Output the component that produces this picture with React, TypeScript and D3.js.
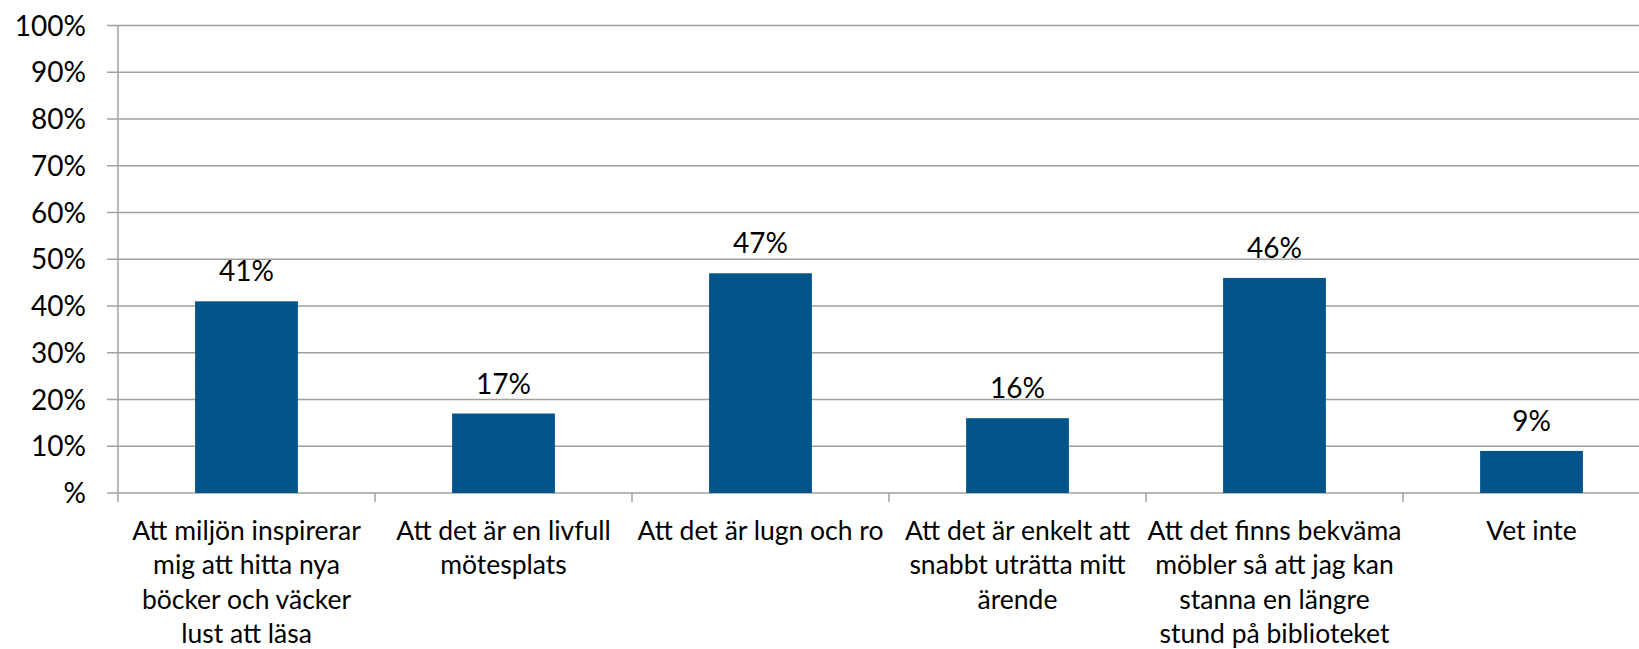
import { useEffect, useRef } from 'react';
import * as d3 from 'd3';

// Category labels, already broken into lines as in the picture
const CATEGORIES: string[][] = [
  ['Att miljön inspirerar', 'mig att hitta nya', 'böcker och väcker', 'lust att läsa'],
  ['Att det är en livfull', 'mötesplats'],
  ['Att det är lugn och ro'],
  ['Att det är enkelt att', 'snabbt uträtta mitt', 'ärende'],
  ['Att det finns bekväma', 'möbler så att jag kan', 'stanna en längre', 'stund på biblioteket'],
  ['Vet inte'],
];

const VALUES: number[] = [41, 17, 47, 16, 46, 9];

const Y_TICKS: number[] = [0, 10, 20, 30, 40, 50, 60, 70, 80, 90, 100];

const WIDTH = 1639;
const HEIGHT = 649;
const BAR_COLOR = '#02548a';
const GRID_COLOR = '#a0a0a0';
const FONT = 'Lato, "Open Sans", sans-serif';

function Chart() {
  const svgRef = useRef<SVGSVGElement>(null);

  useEffect(() => {
    if (!svgRef.current) return;
    const svg = d3.select(svgRef.current);
    svg.selectAll('*').remove();

    const left = 118;
    const top = 25.5;
    const bottom = 493;
    // plot runs past the right edge of the picture (it is cropped there)
    const right = left + 6 * 257;

    const keys = CATEGORIES.map((_, i) => String(i));

    const xScale = d3.scaleBand().domain(keys).range([left, right]);
    const yScale = d3.scaleLinear().domain([0, 100]).range([bottom, top]);
    const bw = xScale.bandwidth();
    const barW = bw * 0.4;

    // Grid lines
    svg
      .append('g')
      .selectAll('line')
      .data(Y_TICKS)
      .join('line')
      .attr('x1', left - 11)
      .attr('x2', right)
      .attr('y1', (d) => yScale(d))
      .attr('y2', (d) => yScale(d))
      .attr('stroke', GRID_COLOR)
      .attr('stroke-width', 1.5);

    // Y axis line
    svg
      .append('line')
      .attr('x1', left)
      .attr('x2', left)
      .attr('y1', top)
      .attr('y2', bottom + 9)
      .attr('stroke', GRID_COLOR)
      .attr('stroke-width', 1.5);

    // Category tick marks
    svg
      .append('g')
      .selectAll('line')
      .data(keys.slice(1))
      .join('line')
      .attr('x1', (d) => xScale(d) || 0)
      .attr('x2', (d) => xScale(d) || 0)
      .attr('y1', bottom)
      .attr('y2', bottom + 9)
      .attr('stroke', GRID_COLOR)
      .attr('stroke-width', 1.5);

    // Y tick labels
    svg
      .append('g')
      .selectAll('text')
      .data(Y_TICKS)
      .join('text')
      .attr('x', 86)
      .attr('y', (d) => yScale(d) + 10)
      .attr('text-anchor', 'end')
      .attr('font-family', FONT)
      .attr('font-size', 28)
      .attr('fill', '#000')
      .text((d) => (d === 0 ? '%' : `${d}%`));

    // Bars
    svg
      .append('g')
      .selectAll('rect')
      .data(VALUES)
      .join('rect')
      .attr('x', (_, i) => (xScale(keys[i]) || 0) + (bw - barW) / 2)
      .attr('y', (d) => yScale(d))
      .attr('width', barW)
      .attr('height', (d) => bottom - yScale(d))
      .attr('fill', BAR_COLOR);

    // Value labels
    svg
      .append('g')
      .selectAll('text')
      .data(VALUES)
      .join('text')
      .attr('x', (_, i) => (xScale(keys[i]) || 0) + bw / 2)
      .attr('y', (d) => yScale(d) - 20)
      .attr('text-anchor', 'middle')
      .attr('font-family', FONT)
      .attr('font-size', 28)
      .attr('fill', '#000')
      .text((d) => `${d}%`);

    // Category labels
    const cat = svg
      .append('g')
      .selectAll('text')
      .data(CATEGORIES)
      .join('text')
      .attr('text-anchor', 'middle')
      .attr('font-family', FONT)
      .attr('font-size', 26.5)
      .attr('fill', '#000')
      .attr('transform', (_, i) => `translate(${(xScale(keys[i]) || 0) + bw / 2},540)`);

    cat
      .selectAll('tspan')
      .data((d) => d)
      .join('tspan')
      .attr('x', 0)
      .attr('y', (_, j) => j * 34.3)
      .text((d) => d);
  }, []);

  return <svg ref={svgRef} width={WIDTH} height={HEIGHT} style={{ display: 'block' }} />;
}

export default function App() {
  return (
    <div style={{ position: 'absolute', left: 0, top: 0, width: WIDTH, height: HEIGHT, background: '#fff', overflow: 'hidden' }}>
      <Chart />
    </div>
  );
}
